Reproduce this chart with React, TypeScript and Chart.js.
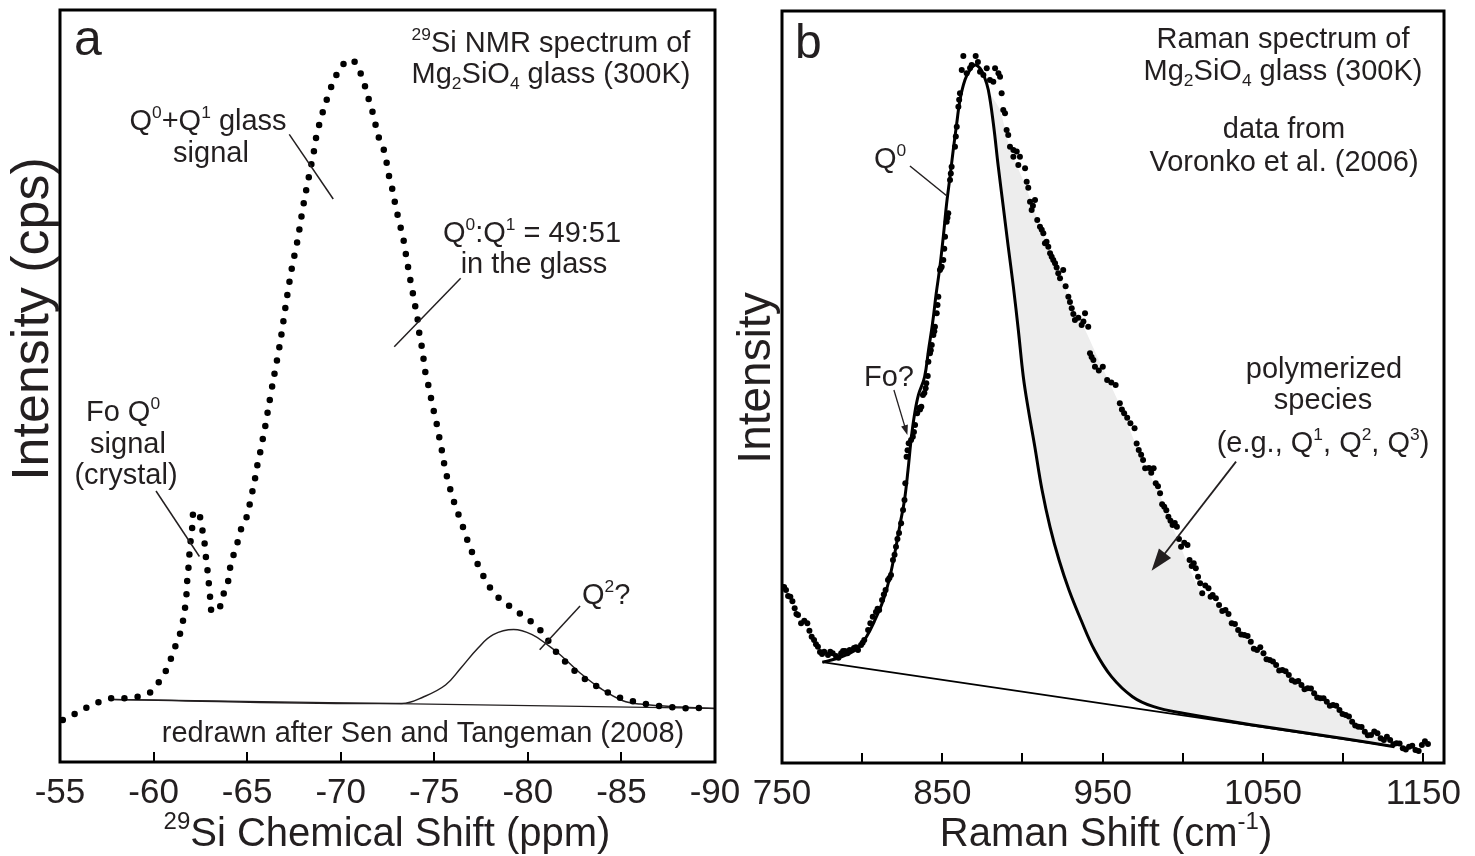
import React, { useEffect, useRef } from 'react';
import { Chart, registerables } from 'chart.js';

Chart.register(...registerables);

const FONT = '"Liberation Sans", Arial, Helvetica, sans-serif';
const INK = '#231f20';

// ---------------- Panel a : 29Si NMR ----------------
const nmrShift = [
  -55.15, -55.77, -56.4, -57.0, -57.7, -58.39, -59.09, -59.79, -60.25, -60.64, -60.92, -61.16, -61.41, -61.57,
  -61.68, -61.76, -61.8, -61.87, -61.92, -61.99, -62.08, -62.15, -62.48, -62.61, -62.73, -62.8, -62.89, -62.96,
  -63.03, -63.12, -63.5, -63.73, -63.96, -64.07, -64.24, -64.47, -64.66, -64.94, -65.12, -65.28, -65.42, -65.54,
  -65.7, -65.84, -65.98, -66.11, -66.36, -66.76, -67.08, -67.37, -67.73, -67.84, -67.97, -68.09, -68.24, -68.37,
  -68.53, -68.63, -68.79, -68.98, -69.2, -69.43, -69.71, -70.05, -70.59, -70.98, -71.24, -71.44, -71.66, -71.83,
  -71.99, -72.24, -72.42, -72.54, -72.72, -72.86, -73.01, -73.18, -73.34, -73.46, -73.58, -73.7, -73.84, -73.97,
  -74.11, -74.2, -74.33, -74.42, -74.5, -74.66, -74.81, -74.96, -75.13, -75.27, -75.41, -75.53, -75.69, -75.88,
  -76.09, -76.34, -76.57, -76.82, -77.1, -77.41, -77.73, -78.12, -78.63, -79.21, -79.82, -80.4, -80.92, -81.34,
  -81.74, -82.25, -82.79, -83.36, -83.94, -84.59, -85.27, -85.91, -86.61, -87.3, -88.0, -88.7, -89.44,
];
const nmrIntensity = [
  5.59, 6.38, 7.22, 7.89, 8.46, 8.46, 8.64, 9.21, 10.51, 12.04, 13.7, 15.37, 17.02, 18.75,
  20.48, 22.34, 24.2, 25.98, 27.79, 29.65, 31.52, 33.38, 32.58, 30.85, 28.99, 27.18, 25.32, 23.54,
  21.7, 19.95, 20.41, 22.29, 23.75, 25.59, 27.26, 29.06, 30.85, 32.31, 34.1, 35.97, 37.66, 39.4,
  41.22, 43.01, 44.81, 46.72, 50.27, 55.72, 61.04, 65.43, 69.85, 71.64, 73.5, 75.27, 77.03, 78.82,
  80.59, 82.35, 84.14, 85.91, 87.67, 89.36, 91.05, 92.59, 93.44, 92.02, 90.33, 88.6, 86.83, 85.11,
  83.34, 81.91, 80.15, 78.37, 76.6, 74.83, 73.05, 71.28, 69.64, 67.86, 66.09, 64.36, 62.54, 60.77,
  58.87, 57.01, 55.23, 53.69, 52.13, 50.36, 48.58, 46.81, 44.95, 43.15, 41.36, 39.63, 37.79, 36.04,
  34.31, 32.58, 30.98, 29.15, 27.41, 25.85, 24.2, 22.69, 21.41, 20.41, 19.28, 18.22, 16.76, 15.16,
  14.03, 12.7, 11.49, 10.51, 9.71, 8.82, 8.32, 7.89, 7.58, 7.35, 7.22, 7.13, 7.22,
];
const q2Shift = [-57.7, -73.27, -74.44, -75.6, -76.41, -77.34, -78.15, -79.24, -80.23, -81.16, -81.74, -82.79, -83.85, -85.08, -86.01, -88.13, -89.95];
const q2Intensity = [8.32, 7.79, 8.68, 10.24, 12.47, 15.16, 16.93, 17.61, 16.93, 15.37, 14.23, 11.84, 9.84, 8.15, 7.71, 7.31, 7.13];
const nmrBaseShift = [-57.7, -89.95];
const nmrBaseIntensity = [8.32, 7.13];
const nmrTickMarks = [-60, -65, -70, -75, -80, -85];

// ---------------- Panel b : Raman ----------------
const ramanShift = [
  750.0, 752.5, 755.2, 757.9, 760.0, 761.9, 765.8, 768.5, 770.0, 772.4, 773.7, 776.3, 778.7, 781.6, 783.7, 786.9,
  789.3, 792.2, 794.9, 797.4, 799.3, 801.3, 803.7, 806.6, 808.6, 810.6, 812.4, 814.6, 816.1, 818.0, 819.2, 821.1,
  823.0, 824.3, 825.5, 826.4, 826.9, 827.7, 829.0, 830.5, 831.6, 833.0, 834.3, 835.4, 836.9, 837.9, 839.6, 840.9,
  841.3, 842.3, 843.4, 844.4, 845.4, 846.5, 847.5, 848.5, 849.6, 850.6, 851.7, 852.7, 853.7, 854.8, 855.8, 857.9,
  859.0, 860.0, 861.0, 862.1, 863.1, 865.2, 867.3, 868.3, 870.8, 872.2, 873.5, 875.6, 877.7, 879.7, 881.8, 882.9,
  885.0, 886.0, 887.0, 888.0, 889.1, 890.1, 891.1, 892.2, 894.3, 896.4, 894.3, 898.4, 897.4, 901.6, 902.6, 904.7,
  907.8, 905.7, 909.2, 910.9, 913.0, 914.0, 916.1, 918.2, 920.3, 922.3, 925.4, 923.4, 928.6, 930.7, 932.7, 939.0,
  936.9, 941.0, 942.1, 944.2, 945.2, 950.1, 952.8, 958.1, 960.7, 963.4, 967.3, 969.9, 972.5, 975.2, 976.5, 978.9,
  981.8, 983.1, 985.8, 988.4, 991.0, 993.6, 996.3, 998.9, 1002.9, 1004.2, 1006.8, 1009.5, 1012.1, 1016.0, 1018.6, 1022.6,
  1026.6, 1030.5, 1034.5, 1038.4, 1042.4, 1046.3, 1050.3, 1054.2, 1058.2, 1062.1, 1066.1, 1070.0, 1074.0, 1077.9, 1081.9, 1085.8,
  1089.8, 1093.7, 1097.7, 1101.6, 1105.6, 1109.5, 1113.5, 1117.4, 1121.4, 1125.4, 1129.3, 1133.3, 1137.2, 1141.1, 1145.1, 1149.1,
  1152.9,
];
const ramanIntensity = [
  23.44, 23.0, 22.11, 20.57, 19.68, 18.58, 18.58, 16.8, 16.36, 15.47, 14.76, 14.8, 14.36, 14.59, 14.23, 14.59,
  14.89, 15.03, 15.29, 15.03, 15.69, 16.36, 17.69, 19.45, 20.08, 20.35, 21.68, 23.01, 24.34, 25.0, 27.0, 28.76,
  30.59, 31.88, 33.64, 34.97, 37.19, 40.73, 42.51, 42.95, 43.39, 44.95, 46.5, 47.21, 47.38, 48.94, 49.83, 51.46,
  53.36, 54.48, 55.59, 56.92, 58.02, 59.8, 62.01, 65.56, 66.0, 66.89, 69.99, 71.98, 73.1, 77.53, 79.3, 81.96,
  84.62, 87.27, 89.06, 92.15, 94.02, 91.71, 92.42, 92.82, 94.02, 93.22, 91.93, 91.49, 92.38, 90.82, 90.6, 92.38,
  91.71, 91.26, 89.06, 86.83, 86.4, 84.17, 83.51, 81.96, 81.52, 81.3, 80.63, 80.63, 79.52, 79.08, 77.3, 74.64,
  74.87, 73.54, 72.21, 71.32, 70.44, 69.11, 68.66, 67.33, 66.45, 65.12, 65.56, 64.46, 62.01, 60.47, 58.91, 59.8,
  58.24, 58.02, 54.48, 53.59, 52.7, 52.7, 50.93, 50.27, 47.83, 46.5, 45.17, 44.51, 41.62, 40.29, 39.19, 39.23,
  39.19, 37.19, 35.86, 34.08, 32.75, 31.65, 31.42, 28.76, 28.99, 27.0, 26.56, 24.77, 22.57, 23.23, 22.34, 21.01,
  20.35, 18.58, 17.69, 17.02, 16.13, 15.03, 14.59, 13.7, 13.03, 12.37, 11.7, 10.81, 10.37, 9.93, 9.27, 8.6,
  8.15, 7.71, 7.05, 6.38, 5.49, 4.83, 4.16, 3.72, 3.95, 3.06, 3.06, 2.62, 1.95, 2.17, 1.73, 2.39,
  2.53,
];
// second pass of the same spectrum (denser sampling read between the points above)
const ramanShift2 = [
  751.3, 753.8, 756.5, 759.0, 763.9, 767.1, 771.2, 775.0, 780.1, 785.2, 788.1, 790.8, 796.1, 800.3, 805.1, 809.6,
  813.5, 817.0, 820.2, 822.0, 828.3, 832.3, 836.1, 838.8, 840.0, 842.8, 845.0, 847.0, 849.0, 851.2, 853.2, 855.3,
  858.4, 860.5, 903.6, 906.5, 912.0, 915.0, 917.2, 919.2, 921.3, 926.9, 929.6, 931.7, 934.8, 938.0, 943.1, 947.6,
  955.4, 962.0, 965.3, 971.2, 974.0, 980.3, 984.5, 987.1, 989.7, 992.3, 995.0, 997.6, 1000.9, 1005.5, 1008.1, 1010.8,
  1014.0, 1017.3, 1020.6, 1024.6, 1028.5, 1032.5, 1036.4, 1040.4, 1044.3, 1048.3, 1052.2, 1056.2, 1060.1, 1064.1, 1068.0, 1072.0,
  1075.9, 1079.9, 1083.8, 1087.8, 1091.7, 1095.7, 1099.6, 1103.6, 1107.5, 1111.5, 1115.4, 1119.4, 1123.4, 1127.3, 1131.3, 1135.2,
  1139.1, 1143.1, 1147.1, 1151.0,
];
const ramanIntensity2 = [
  23.4, 22.2, 21.5, 19.8, 18.9, 17.6, 15.8, 14.5, 14.8, 14.0, 14.9, 14.6, 15.4, 16.0, 18.6, 20.5,
  22.4, 24.6, 27.7, 29.8, 41.6, 44.0, 47.0, 49.2, 50.5, 54.9, 57.4, 60.9, 65.8, 68.4, 72.5, 78.4,
  83.3, 88.2, 76.5, 74.1, 70.9, 69.3, 67.8, 66.9, 65.9, 63.4, 61.3, 59.7, 59.2, 58.7, 54.0, 52.2,
  50.6, 47.0, 45.9, 42.5, 41.0, 38.6, 36.8, 34.4, 33.6, 32.2, 31.9, 29.8, 29.3, 26.2, 25.9, 23.9,
  23.6, 22.1, 21.9, 20.2, 19.8, 18.5, 17.1, 16.9, 15.2, 15.4, 13.8, 13.5, 12.3, 12.2, 11.0, 10.9,
  9.8, 9.9, 8.7, 8.6, 7.6, 7.6, 6.5, 6.2, 5.0, 4.8, 3.7, 4.2, 3.3, 3.5, 2.5, 2.6,
  1.8, 2.3, 1.6, 2.9,
];
const q0Shift = [
  775.2, 783.1, 792.2, 797.4, 802.7, 808.0, 813.2, 817.4, 821.1, 823.9, 826.4, 828.6, 830.5, 832.6, 835.1, 838.9,
  841.4, 843.9, 846.2, 848.5, 850.6, 852.7, 854.8, 856.8, 859.0, 861.0, 864.1, 867.3, 870.4, 873.5, 876.2, 878.7,
  881.8, 884.9, 888.0, 891.1, 894.3, 897.4, 900.5, 903.7, 907.5, 912.2, 917.2, 922.8, 929.0, 936.5, 944.9, 955.5,
  968.6, 981.8, 1000.2, 1050.0, 1100.0, 1132.0,
];
const q0Intensity = [
  13.4, 13.83, 14.59, 15.29, 16.8, 19.02, 21.68, 24.87, 28.76, 32.05, 34.97, 38.96, 42.95, 46.28, 48.94, 51.33,
  54.92, 58.47, 62.46, 66.0, 69.99, 74.43, 77.97, 81.52, 85.07, 88.17, 90.82, 92.15, 92.82, 92.38, 91.26, 89.49,
  85.07, 79.3, 73.98, 68.66, 63.34, 57.58, 51.37, 46.94, 42.29, 36.3, 31.38, 26.99, 23.01, 19.02, 15.03, 11.48,
  8.82, 7.49, 6.61, 4.85, 3.25, 2.17,
];
const polyEdgeShift = [879.1, 886.0, 892.2, 901.6, 910.9, 920.3, 929.6, 939.0, 948.3, 960.8, 973.3, 985.8, 998.2, 1010.7, 1026.3, 1041.9, 1060.6, 1079.3, 1098.0, 1116.7, 1132.0];
const polyEdgeIntensity = [89.23, 86.83, 81.7, 76.9, 71.5, 66.6, 61.6, 57.6, 53.3, 47.6, 41.0, 35.6, 29.0, 23.0, 20.1, 16.1, 12.4, 9.3, 6.6, 4.0, 2.17];
const ramanBaseShift = [775.2, 1132.0];
const ramanBaseIntensity = [13.4, 2.17];
const ramanTickMarks = [800, 850, 900, 950, 1000, 1050, 1100, 1150];
const ramanTickLabels = [750, 850, 950, 1050, 1150];

// ---------------- helpers ----------------
type Seg = { t: string; k?: 'sup' | 'sub' };
type TextSpec = { segs: Seg[]; x: number; y: number; size: number; align?: 'left' | 'center' | 'right'; rot?: boolean };
type Pointer = { from: [number, number]; to: [number, number]; width?: number; head?: number };

const S = (...parts: (string | [string, 'sup' | 'sub'])[]): Seg[] =>
  parts.map((p) => (typeof p === 'string' ? { t: p } : { t: p[0], k: p[1] }));

const pts = (xs: number[], ys: number[]) => xs.map((x, i) => ({ x, y: ys[i] }));

function drawRich(ctx: CanvasRenderingContext2D, spec: TextSpec) {
  const size = spec.size;
  const small = size * 0.6;
  const ws = spec.segs.map((s) => {
    ctx.font = `${s.k ? small : size}px ${FONT}`;
    return ctx.measureText(s.t).width;
  });
  const total = ws.reduce((a, b) => a + b, 0);
  ctx.save();
  ctx.translate(spec.x, spec.y);
  if (spec.rot) ctx.rotate(-Math.PI / 2);
  let cx = spec.align === 'left' ? 0 : spec.align === 'right' ? -total : -total / 2;
  ctx.fillStyle = INK;
  ctx.textAlign = 'left';
  ctx.textBaseline = 'alphabetic';
  spec.segs.forEach((s, i) => {
    ctx.font = `${s.k ? small : size}px ${FONT}`;
    const dy = s.k === 'sup' ? -size * 0.42 : s.k === 'sub' ? size * 0.2 : 0;
    ctx.fillText(s.t, cx, dy);
    cx += ws[i];
  });
  ctx.restore();
}

function makeDecor(tickValues: number[], texts: TextSpec[], pointers: Pointer[]) {
  return {
    id: 'decor',
    afterDraw(chart: any) {
      const { ctx, chartArea: a, scales } = chart;
      const sx = scales.x;
      const sy = scales.y;
      ctx.save();
      ctx.strokeStyle = '#000';
      ctx.lineWidth = 2;
      tickValues.forEach((v) => {
        const px = Math.round(sx.getPixelForValue(v));
        ctx.beginPath();
        ctx.moveTo(px, a.bottom);
        ctx.lineTo(px, a.bottom - 10);
        ctx.stroke();
      });
      ctx.lineWidth = 3;
      ctx.strokeRect(a.left, a.top, a.right - a.left, a.bottom - a.top);
      pointers.forEach((p) => {
        const x1 = sx.getPixelForValue(p.from[0]);
        const y1 = sy.getPixelForValue(p.from[1]);
        const x2 = sx.getPixelForValue(p.to[0]);
        const y2 = sy.getPixelForValue(p.to[1]);
        ctx.strokeStyle = INK;
        ctx.fillStyle = INK;
        ctx.lineWidth = p.width ?? 1.5;
        const ang = Math.atan2(y2 - y1, x2 - x1);
        const h = p.head ?? 0;
        ctx.beginPath();
        ctx.moveTo(x1, y1);
        ctx.lineTo(x2 - Math.cos(ang) * h * 0.8, y2 - Math.sin(ang) * h * 0.8);
        ctx.stroke();
        if (h > 0) {
          const w = h * 0.35;
          ctx.beginPath();
          ctx.moveTo(x2, y2);
          ctx.lineTo(x2 - Math.cos(ang) * h - Math.sin(ang) * w, y2 - Math.sin(ang) * h + Math.cos(ang) * w);
          ctx.lineTo(x2 - Math.cos(ang) * h + Math.sin(ang) * w, y2 - Math.sin(ang) * h - Math.cos(ang) * w);
          ctx.closePath();
          ctx.fill();
        }
      });
      texts.forEach((t) => drawRich(ctx, t));
      ctx.restore();
    },
  };
}

const textsA: TextSpec[] = [
  { segs: S('a'), x: 74, y: 55, size: 50, align: 'left' },
  { segs: S(['29', 'sup'], 'Si NMR spectrum of'), x: 551, y: 52, size: 29 },
  { segs: S('Mg', ['2', 'sub'], 'SiO', ['4', 'sub'], ' glass (300K)'), x: 551, y: 83, size: 29 },
  { segs: S('Q', ['0', 'sup'], '+Q', ['1', 'sup'], ' glass'), x: 208, y: 130, size: 29 },
  { segs: S('signal'), x: 211, y: 162, size: 29 },
  { segs: S('Q', ['0', 'sup'], ':Q', ['1', 'sup'], ' = 49:51'), x: 532, y: 242, size: 29 },
  { segs: S('in the glass'), x: 534, y: 273, size: 29 },
  { segs: S('Fo Q', ['0', 'sup']), x: 123, y: 421, size: 29 },
  { segs: S('signal'), x: 128, y: 453, size: 29 },
  { segs: S('(crystal)'), x: 126, y: 484, size: 29 },
  { segs: S('Q', ['2', 'sup'], '?'), x: 582, y: 604, size: 29, align: 'left' },
  { segs: S('redrawn after Sen and Tangeman (2008)'), x: 423, y: 742, size: 29 },
  { segs: S(['29', 'sup'], 'Si Chemical Shift (ppm)'), x: 387, y: 846, size: 40 },
  { segs: S('Intensity (cps)'), x: 48, y: 319, size: 52, rot: true },
];
const pointersA: Pointer[] = [
  { from: [-67.25, 83.47], to: [-69.6, 74.87] },
  { from: [-76.41, 64.32], to: [-72.86, 55.23] },
  { from: [-60.13, 36.04], to: [-62.45, 27.33] },
  { from: [-82.79, 20.74], to: [-80.63, 14.93] },
];

const OX = 720; // left of panel b canvas on the page
const textsB: TextSpec[] = [
  { segs: S('b'), x: 795 - OX, y: 58, size: 48, align: 'left' },
  { segs: S('Raman spectrum of'), x: 1283 - OX, y: 48, size: 29 },
  { segs: S('Mg', ['2', 'sub'], 'SiO', ['4', 'sub'], ' glass (300K)'), x: 1283 - OX, y: 80, size: 29 },
  { segs: S('data from'), x: 1284 - OX, y: 138, size: 29 },
  { segs: S('Voronko et al. (2006)'), x: 1284 - OX, y: 171, size: 29 },
  { segs: S('Q', ['0', 'sup']), x: 874 - OX, y: 168, size: 29, align: 'left' },
  { segs: S('Fo?'), x: 864 - OX, y: 386, size: 29, align: 'left' },
  { segs: S('polymerized'), x: 1324 - OX, y: 378, size: 29 },
  { segs: S('species'), x: 1323 - OX, y: 409, size: 29 },
  { segs: S('(e.g., Q', ['1', 'sup'], ', Q', ['2', 'sup'], ', Q', ['3', 'sup'], ')'), x: 1323 - OX, y: 452, size: 29 },
  { segs: S('Raman Shift (cm', ['-1', 'sup'], ')'), x: 1106 - OX, y: 846, size: 40 },
  { segs: S('Intensity'), x: 770 - OX, y: 378, size: 46, rot: true },
];
const pointersB: Pointer[] = [
  { from: [829.8, 79.39], to: [852.9, 75.4] },
  { from: [819.8, 49.6], to: [828.2, 43.62], width: 1.3, head: 10 },
  { from: [1033.2, 40.07], to: [980.5, 25.57], width: 1.8, head: 22 },
];

function baseOptions(pad: { left: number; right: number; top: number }, xScale: any, axisHeight: number) {
  return {
    responsive: false,
    animation: false as const,
    devicePixelRatio: 1,
    layout: { padding: { left: pad.left, right: pad.right, top: pad.top, bottom: 0 } },
    plugins: { legend: { display: false }, tooltip: { enabled: false } },
    scales: {
      x: {
        type: 'linear',
        ...xScale,
        grid: { display: false, drawTicks: false },
        border: { display: false },
        afterFit: (s: any) => {
          s.height = axisHeight;
        },
      },
      y: { type: 'linear', display: false, min: 0, max: 100 },
    },
  };
}

export default function App() {
  const refA = useRef<HTMLCanvasElement>(null);
  const refB = useRef<HTMLCanvasElement>(null);

  useEffect(() => {
    const tickFont = { family: FONT, size: 35 };
    const chartA = new Chart(refA.current as HTMLCanvasElement, {
      type: 'line',
      data: {
        datasets: [
          {
            data: pts(nmrShift, nmrIntensity),
            borderColor: '#000',
            borderWidth: 6.5,
            borderDash: [0, 13.3],
            borderCapStyle: 'round',
            pointRadius: 0,
            tension: 0.3,
            fill: false,
          },
          { data: pts(q2Shift, q2Intensity), borderColor: INK, borderWidth: 1.5, pointRadius: 0, tension: 0.4, fill: false },
          { data: pts(nmrBaseShift, nmrBaseIntensity), borderColor: INK, borderWidth: 1.3, pointRadius: 0, fill: false },
        ],
      },
      options: baseOptions(
        { left: 60, right: 55, top: 10 },
        {
          min: -90,
          max: -55,
          reverse: true,
          ticks: {
            stepSize: 5,
            autoSkip: false,
            maxRotation: 0,
            color: INK,
            font: tickFont,
            padding: 10,
            callback: (v: any) => String(v),
          },
        },
        94,
      ) as any,
      plugins: [makeDecor(nmrTickMarks, textsA, pointersA)],
    });

    const chartB = new Chart(refB.current as HTMLCanvasElement, {
      type: 'line',
      data: {
        datasets: [
          {
            data: pts(ramanShift, ramanIntensity).concat(pts(ramanShift2, ramanIntensity2)),
            showLine: false,
            pointRadius: 3,
            pointBackgroundColor: '#000',
            pointBorderWidth: 0,
            borderColor: '#000',
          },
          { data: pts(q0Shift, q0Intensity), borderColor: '#000', borderWidth: 3, pointRadius: 0, tension: 0.4, fill: false },
          { data: pts(ramanBaseShift, ramanBaseIntensity), borderColor: '#000', borderWidth: 1.8, pointRadius: 0, fill: false },
          {
            data: pts(
              polyEdgeShift.concat(q0Shift.filter((x) => x >= 880 && x < 1132).reverse()),
              polyEdgeIntensity.concat(q0Intensity.filter((_, i) => q0Shift[i] >= 880 && q0Shift[i] < 1132).reverse()),
            ),
            borderWidth: 0,
            borderColor: 'rgba(0,0,0,0)',
            backgroundColor: '#ededed',
            pointRadius: 0,
            tension: 0.2,
            fill: 'shape',
          },
        ],
      },
      options: baseOptions(
        { left: 782 - OX, right: 755 - (1444 - OX), top: 11 },
        {
          min: 750,
          max: 1162.9,
          ticks: {
            stepSize: 50,
            includeBounds: false,
            autoSkip: false,
            maxRotation: 0,
            color: INK,
            font: tickFont,
            padding: 10,
            callback: (v: any) => (ramanTickLabels.includes(Number(v)) ? String(v) : ''),
          },
        },
        93,
      ) as any,
      plugins: [makeDecor(ramanTickMarks, textsB, pointersB)],
    });

    return () => {
      chartA.destroy();
      chartB.destroy();
    };
  }, []);

  return (
    <div style={{ position: 'absolute', left: 0, top: 0, width: 1475, height: 856, background: '#fff', overflow: 'hidden' }}>
      <canvas ref={refA} width={770} height={856} style={{ position: 'absolute', left: 0, top: 0 }} />
      <canvas ref={refB} width={755} height={856} style={{ position: 'absolute', left: OX, top: 0 }} />
    </div>
  );
}
